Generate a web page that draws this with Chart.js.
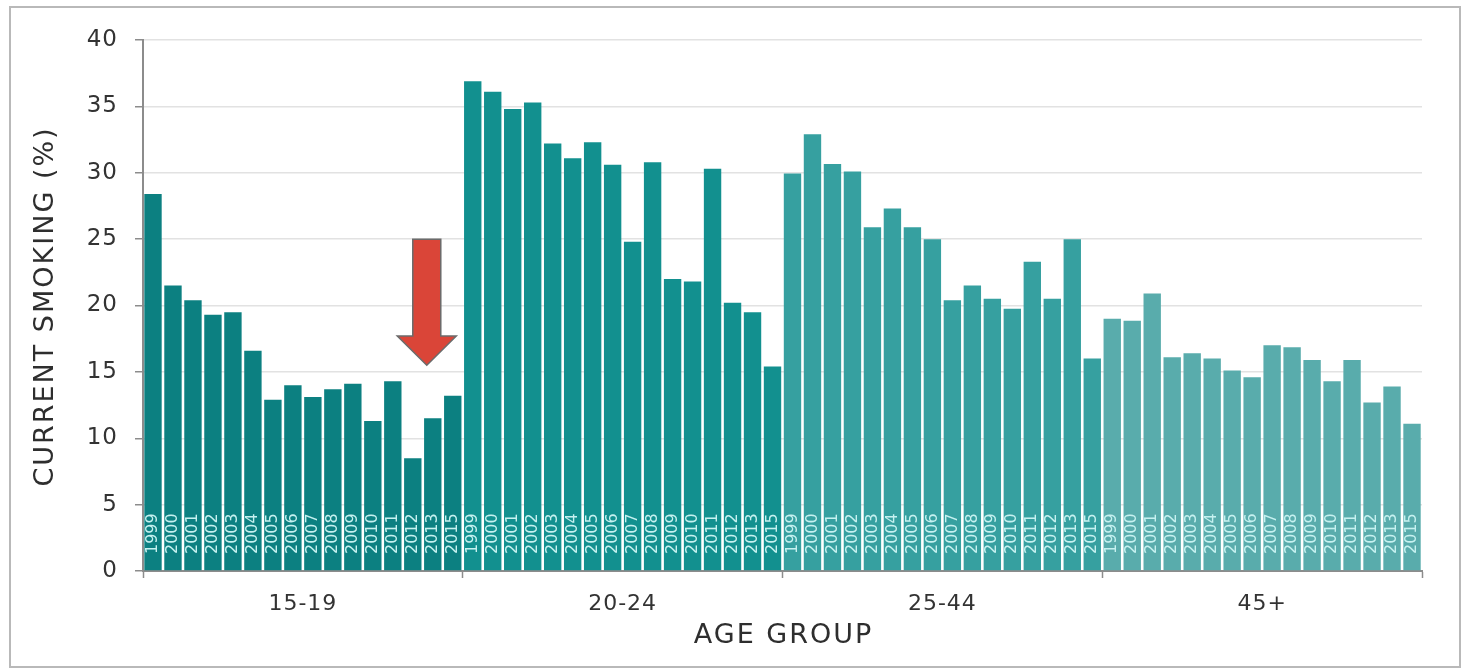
<!DOCTYPE html>
<html>
<head>
<meta charset="utf-8">
<script src="https://cdn.jsdelivr.net/npm/chart.js@4.4.1/dist/chart.umd.min.js"></script>
<style>
  html, body { margin:0; padding:0; background:#fff; }
  #wrap { position:relative; width:1462px; height:668px; }
  #frame { position:absolute; left:9px; top:6px; width:1452px; height:662px;
           border:2px solid #b9b9b9; box-sizing:border-box; pointer-events:none; }
</style>
</head>
<body>
<div id="wrap">
  <canvas id="chart"></canvas>
  <div id="frame"></div>
</div>
<script>
const years = ["1999","2000","2001","2002","2003","2004","2005","2006","2007","2008","2009","2010","2011","2012","2013","2015"];
const groups = ["15-19","20-24","25-44","45+"];

// current smoking (%) by year, one list per age group
const age15_19 = [28.4,21.5,20.4,19.3,19.5,16.6,12.9,14.0,13.1,13.7,14.1,11.3,14.3,8.5,11.5,13.2];
const age20_24 = [36.9,36.1,34.8,35.3,32.2,31.1,32.3,30.6,24.8,30.8,22.0,21.8,30.3,20.2,19.5,15.4];
const age25_44 = [29.95,32.9,30.65,30.1,25.9,27.3,25.9,25.0,20.4,21.5,20.5,19.75,23.3,20.5,25.0,16.0];
const age45up = [19.0,18.85,20.9,16.1,16.4,16.0,15.1,14.6,17.0,16.85,15.9,14.3,15.9,12.7,13.9,11.1];

const yTicks = [0,5,10,15,20,25,30,35,40];

const groupColors = ["#0c8081","#12908f","#36a0a0","#59acac"];
const series = [age15_19, age20_24, age25_44, age45up];

const allLabels = [], allValues = [], allColors = [];
series.forEach((s, gi) => {
  s.forEach((v, i) => {
    allLabels.push(years[i]);
    allValues.push(v);
    allColors.push(groupColors[gi]);
  });
});

// red arrow pointing at the 15-19 2013 bar (category index, value range)
const arrow = { at: 13.7, top: 25, headBase: 17.7, tip: 15.5 };

const FONT = "'DejaVu Sans', sans-serif";

const decorPlugin = {
  id: "decor",
  beforeDraw(chart){
    chart.ctx.letterSpacing = "1px";
  },
  afterDatasetsDraw(chart){
    const {ctx, scales, chartArea} = chart;
    const xs = scales.x;
    // year labels inside the bars
    ctx.save();
    ctx.letterSpacing = "0px";
    ctx.fillStyle = "#c6f1f0";
    ctx.font = "16px " + FONT;
    ctx.textAlign = "left";
    ctx.textBaseline = "middle";
    allLabels.forEach((lab, i) => {
      const x = xs.getPixelForValue(i);
      ctx.save();
      ctx.translate(x, chartArea.bottom - 17);
      ctx.rotate(-Math.PI/2);
      ctx.fillText(lab, 0, 0);
      ctx.restore();
    });
    ctx.restore();

    // arrow annotation
    const ys = scales.y;
    const cx = xs.getPixelForValue(arrow.at);
    const yTop = ys.getPixelForValue(arrow.top);
    const yBase = ys.getPixelForValue(arrow.headBase);
    const yTip = ys.getPixelForValue(arrow.tip);
    const sw = 14, hw = 29.5;
    ctx.save();
    ctx.beginPath();
    ctx.moveTo(cx - sw, yTop);
    ctx.lineTo(cx + sw, yTop);
    ctx.lineTo(cx + sw, yBase);
    ctx.lineTo(cx + hw, yBase);
    ctx.lineTo(cx, yTip);
    ctx.lineTo(cx - hw, yBase);
    ctx.lineTo(cx - sw, yBase);
    ctx.closePath();
    ctx.fillStyle = "#da4538";
    ctx.fill();
    ctx.lineWidth = 1.5;
    ctx.strokeStyle = "#6b6b6b";
    ctx.stroke();
    ctx.restore();
  },
  afterDraw(chart){
    const {ctx, chartArea} = chart;
    ctx.save();
    ctx.letterSpacing = "2px";
    ctx.fillStyle = "#2e2e2e";
    ctx.font = "27px " + FONT;
    ctx.textAlign = "center";
    ctx.textBaseline = "middle";
    ctx.fillText("AGE GROUP", (chartArea.left + chartArea.right)/2 + 1, 636);
    ctx.save();
    ctx.translate(46, (chartArea.top + chartArea.bottom)/2 + 2);
    ctx.rotate(-Math.PI/2);
    ctx.fillText("CURRENT SMOKING (%)", 1, 0);
    ctx.restore();
    ctx.restore();
  }
};

new Chart(document.getElementById("chart"), {
  type: "bar",
  data: {
    labels: allLabels,
    datasets: [{
      label: "Current smoking (%)",
      data: allValues,
      backgroundColor: allColors,
      borderWidth: 0,
      barPercentage: 0.87,
      categoryPercentage: 1,
      xAxisID: "x",
      yAxisID: "y"
    }]
  },
  options: {
    responsive: true,
    maintainAspectRatio: false,
    animation: false,
    layout: { padding: { left: 20, right: 40, top: 40, bottom: 0 } },
    plugins: { legend: { display: false }, tooltip: { enabled: false } },
    scales: {
      x: { type: "category", display: false, offset: true },
      g: {
        type: "category",
        position: "bottom",
        labels: groups,
        offset: true,
        afterFit: (s) => { s.height = 97; },
        grid: { offset: true, drawOnChartArea: false, drawTicks: true, tickLength: 7, tickColor: "#8c8c8c", tickWidth: 1.5 },
        border: { color: "#8c8c8c", width: 2 },
        ticks: { color: "#333", font: { family: FONT, size: 22 }, padding: 13, maxRotation: 0 }
      },
      y: {
        min: 0,
        max: 40,
        afterFit: (s) => { s.width = 123; },
        afterBuildTicks: (s) => { s.ticks = yTicks.map(v => ({ value: v })); },
        grid: { color: "#e2e2e2", lineWidth: 1.5, tickLength: 8, tickColor: "#8c8c8c", tickWidth: 1.5 },
        border: { color: "#8c8c8c", width: 2 },
        ticks: { color: "#333", font: { family: FONT, size: 23 }, padding: 17 }
      }
    }
  },
  plugins: [decorPlugin]
});
</script>
</body>
</html>
